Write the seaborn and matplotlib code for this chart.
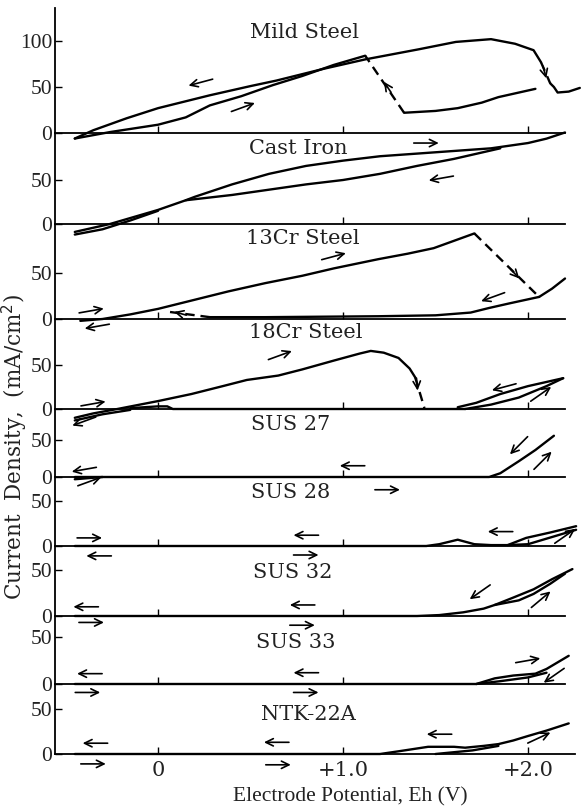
import matplotlib
matplotlib.use("Agg")
import matplotlib.pyplot as plt
import numpy as np
import pandas as pd
import seaborn as sns

# -------------------------------------------------
# Curves: (potential V, current density mA/cm2)
# -------------------------------------------------
panel_names = ["Mild Steel", "Cast Iron", "13Cr Steel", "18Cr Steel",
               "SUS 27", "SUS 28", "SUS 32", "SUS 33", "NTK-22A"]

mild_solid = [
    [(-0.45, -6), (-0.26, 1), (0.0, 9), (0.15, 17), (0.28, 30), (0.45, 40),
     (0.62, 52), (0.78, 62), (0.95, 74), (1.12, 84)],
    [(-0.45, -6), (-0.35, 3), (-0.17, 16), (0.0, 27), (0.28, 41), (0.5, 51),
     (0.64, 57), (0.9, 70), (1.12, 80), (1.41, 91), (1.61, 99), (1.8, 102),
     (1.93, 97), (2.03, 90), (2.07, 77)],
    [(2.12, 54), (2.14, 50), (2.16, 44), (2.22, 45), (2.28, 49)],
    [(1.33, 22), (1.5, 24), (1.62, 27), (1.75, 33), (1.84, 39), (2.04, 48)],
]
mild_dashed = [[(2.07, 77), (2.12, 54)], [(1.33, 22), (1.12, 84)]]
mild_arrows = [(0.23, 55, 195, 18), (0.46, 28, 20, 18),
               (1.24, 50, 124, 9), (2.09, 66, -75, 9)]

cast_solid = [
    [(-0.45, -9), (-0.26, 0), (0.0, 16), (0.15, 27), (0.2, 31), (0.4, 45),
     (0.6, 57), (0.8, 66), (1.0, 72), (1.2, 77), (1.4, 80), (1.6, 83),
     (1.8, 86), (2.0, 92), (2.1, 97), (2.2, 104)],
    [(1.85, 86), (1.6, 74), (1.4, 66), (1.2, 57), (1.0, 50), (0.8, 45),
     (0.6, 39), (0.4, 33), (0.15, 27)],
    [(-0.45, -12), (-0.3, -6), (-0.15, 4), (0.0, 15)],
]
cast_dashed = []
cast_arrows = [(1.45, 92, 0, 18), (1.53, 52, 190, 18)]

cr13_solid = [
    [(-0.42, -2), (-0.3, 0), (-0.15, 5), (0.0, 11), (0.2, 21), (0.38, 30),
     (0.58, 39), (0.78, 47), (0.95, 55), (1.19, 65), (1.35, 71), (1.49, 77),
     (1.6, 85), (1.71, 93)],
    [(2.06, 24), (2.13, 33), (2.2, 44)],
    [(2.06, 24), (1.9, 17), (1.79, 12), (1.69, 7), (1.5, 4), (1.19, 3),
     (0.58, 2), (0.28, 2)],
]
cr13_dashed = [[(1.71, 93), (2.06, 24)], [(0.28, 2), (0.05, 8)]]
cr13_arrows = [(0.95, 68, 15, 18), (1.81, 24, 200, 18), (-0.36, 9, 10, 18),
               (-0.33, -8, 190, 18), (1.93, 49, -47, 9), (0.12, 6, 165, 9)]

cr18_solid = [
    [(-0.45, -10), (-0.35, -5), (-0.22, 0), (0.0, 9), (0.18, 17), (0.35, 26),
     (0.48, 33), (0.65, 38), (0.78, 45), (0.95, 55), (1.09, 63), (1.15, 66),
     (1.22, 64), (1.3, 58), (1.36, 46), (1.39, 36)],
    [(-0.15, 1), (0.0, 3), (0.05, 3), (0.08, 0), (1.66, 0)],
    [(2.19, 35), (2.0, 26), (1.85, 17), (1.72, 7), (1.62, 2)],
    [(1.66, 0), (1.8, 5), (1.95, 13), (2.1, 26), (2.19, 35)],
    [(-0.45, -13), (-0.3, -6), (-0.15, -1)],
]
cr18_dashed = [[(1.39, 36), (1.44, 1)]]
cr18_arrows = [(0.66, 61, 20, 18), (1.87, 25, 195, 18), (2.07, 17, 35, 18),
               (-0.35, 6, 10, 18), (-0.4, -14, 200, 18), (1.4, 28, -85, 9)]

sus27_solid = [
    [(-0.45, 0), (1.79, 0), (1.85, 5), (1.95, 21), (2.04, 36), (2.14, 55)],
    [(-0.45, -3), (-0.3, 0)],
]
sus27_dashed = []
sus27_arrows = [(1.05, 15, 180, 18), (1.24, -17, 0, 18), (1.95, 42, 225, 18),
                (2.08, 22, 45, 18), (-0.4, 10, 190, 18), (-0.37, -6, 20, 18)]

sus28_solid = [
    [(-0.45, 0), (1.45, 0), (1.52, 2), (1.62, 7), (1.71, 2), (1.8, 1),
     (1.89, 1), (1.99, 9), (2.12, 15), (2.26, 22)],
    [(1.89, 1), (2.0, 2), (2.13, 10), (2.26, 18)],
]
sus28_dashed = []
sus28_arrows = [(0.8, 12, 180, 18), (0.8, -10, 0, 18), (1.85, 16, 180, 18),
                (2.2, 11, 35, 18), (-0.37, 9, 0, 18), (-0.32, -11, 180, 18)]

sus32_solid = [
    [(-0.45, 0), (1.4, 0), (1.52, 1), (1.65, 4), (1.76, 8), (1.82, 12),
     (1.92, 20), (2.03, 29), (2.13, 40), (2.24, 51)],
    [(1.82, 12), (1.95, 17), (2.03, 24), (2.12, 35), (2.2, 46)],
]
sus32_dashed = []
sus32_arrows = [(0.78, 12, 180, 18), (0.78, -10, 0, 18), (1.74, 26, 215, 18),
                (2.07, 18, 40, 18), (-0.39, 10, 180, 18), (-0.36, -7, 0, 18)]

sus33_solid = [
    [(-0.45, 0), (1.72, 0), (1.82, 6), (1.92, 9), (2.04, 11), (2.1, 16),
     (2.16, 23), (2.22, 30)],
    [(1.72, 0), (1.85, 3), (2.0, 7), (2.1, 12)],
]
sus33_dashed = []
sus33_arrows = [(0.8, 12, 180, 18), (0.8, -9, 0, 18), (2.0, 25, 10, 18),
                (2.14, 9, 215, 18), (-0.37, 11, 180, 18), (-0.38, -9, 0, 18)]

ntk_solid = [
    [(-0.45, 0), (1.2, 0), (1.3, 3), (1.46, 8), (1.6, 8), (1.66, 7),
     (1.76, 9), (1.84, 11), (1.92, 15), (2.0, 20), (2.1, 26), (2.22, 34)],
    [(1.5, 0), (1.6, 2), (1.7, 4), (1.84, 9)],
]
ntk_dashed = []
ntk_arrows = [(0.64, 13, 180, 18), (0.65, -12, 0, 18), (1.52, 22, 180, 18),
              (2.06, 18, 25, 18), (-0.34, 12, 180, 18), (-0.35, -11, 0, 18)]

solid = [mild_solid, cast_solid, cr13_solid, cr18_solid, sus27_solid,
         sus28_solid, sus32_solid, sus33_solid, ntk_solid]
dashed = [mild_dashed, cast_dashed, cr13_dashed, cr18_dashed, sus27_dashed,
          sus28_dashed, sus32_dashed, sus33_dashed, ntk_dashed]
arrows = [mild_arrows, cast_arrows, cr13_arrows, cr18_arrows, sus27_arrows,
          sus28_arrows, sus32_arrows, sus33_arrows, ntk_arrows]
yticks = [[0, 50, 100]] + [[0, 50]] * 8
xticks = [0, 1, 2]
xticklabels = ["0", "+1.0", "+2.0"]

# -------------------------------------------------
# Layout (pixels of the 581 x 810 figure)
# -------------------------------------------------
W, H = 581, 810
LEFT, RIGHT = 55, 575
XLIM = (-0.557, 2.254)
ZERO_PX = [133, 224, 319, 409, 477, 546, 616, 684, 754]
TOP_PX = [8] + ZERO_PX[:-1]
PX_PER_UNIT = [0.92, 0.88, 0.92, 0.88, 0.75, 0.9, 0.92, 0.94, 0.9]
LABEL_PX = [(304, 32), (298, 148), (303, 238), (306, 332), (291, 425),
            (291, 492), (293, 572), (296, 643), (308, 715)]

sns.set_theme(style="white")
plt.rcParams["font.family"] = ["DejaVu Serif", "DejaVu Sans"]

fig = plt.figure(figsize=(W / 100, H / 100), dpi=100)
fig.patch.set_facecolor("white")


def draw_curves(ax, curves, ls):
    if not curves:
        return
    rows = [(k, v, i) for k, c in enumerate(curves) for v, i in c]
    df = pd.DataFrame(rows, columns=["curve", "V", "I"])
    sns.lineplot(data=df, x="V", y="I", units="curve", estimator=None,
                 sort=False, color="black", lw=1.7, linestyle=ls,
                 legend=False, ax=ax)


def draw_arrow(ax, v, i, ang, length):
    c = ax.transData.transform((v, i))
    d = np.array([np.cos(np.radians(ang)), np.sin(np.radians(ang))])
    d = d * length * fig.dpi / 72 / 2
    head = ax.transData.inverted().transform(c + d)
    tail = ax.transData.inverted().transform(c - d)
    ax.annotate("", xy=head, xytext=tail, annotation_clip=False,
                arrowprops=dict(arrowstyle="->,head_length=0.45,head_width=0.22",
                                lw=1.2, color="black", shrinkA=0, shrinkB=0))


n = len(panel_names)
for k in range(n):
    top, zero, s = TOP_PX[k], ZERO_PX[k], PX_PER_UNIT[k]
    ax = fig.add_axes([LEFT / W, 1 - zero / H, (RIGHT - LEFT) / W, (zero - top) / H])
    ax.patch.set_visible(False)

    draw_curves(ax, solid[k], "-")
    draw_curves(ax, dashed[k], (0, (4, 2.5)))
    for line in ax.lines:
        line.set_clip_on(False)

    ax.set_xlim(*XLIM)
    ax.set_ylim(0, (zero - top) / s)
    ax.set_xlabel("")
    ax.set_ylabel("")

    for a in arrows[k]:
        draw_arrow(ax, *a)

    for side in ["top", "right"]:
        ax.spines[side].set_visible(False)
    for side in ["left", "bottom"]:
        ax.spines[side].set_color("black")
        ax.spines[side].set_linewidth(1.3)
    if k < n - 1:
        ax.spines["bottom"].set_bounds(XLIM[0], 2.2)

    ax.set_xticks(xticks)
    ax.set_yticks(yticks[k])
    ax.set_yticklabels([str(t) for t in yticks[k]], family="Liberation Serif",
                       fontsize=15.5, color="#222222")
    ax.tick_params(axis="both", direction="in", length=5, width=1,
                   color="black", left=True, bottom=True, pad=2)
    if k < n - 1:
        ax.tick_params(axis="x", labelbottom=False)
    else:
        ax.set_xticklabels(xticklabels, fontsize=15, color="#222222")
        ax.tick_params(axis="x", pad=5)

    lx, ly = LABEL_PX[k]
    fig.text(lx / W, 1 - ly / H, panel_names[k], ha="center", va="center",
             fontsize=15, color="#222222")

fig.text(350 / W, 1 - 797 / H, "Electrode Potential, Eh (V)", ha="center",
         va="center", fontsize=15.5, family="Liberation Serif", color="#222222")
fig.text(15 / W, 1 - 447 / H, "Current  Density,  (mA/cm$^2$)", ha="center",
         va="center", rotation=90, fontsize=15.5, color="#222222")

fig.savefig("out.png", dpi=100)
